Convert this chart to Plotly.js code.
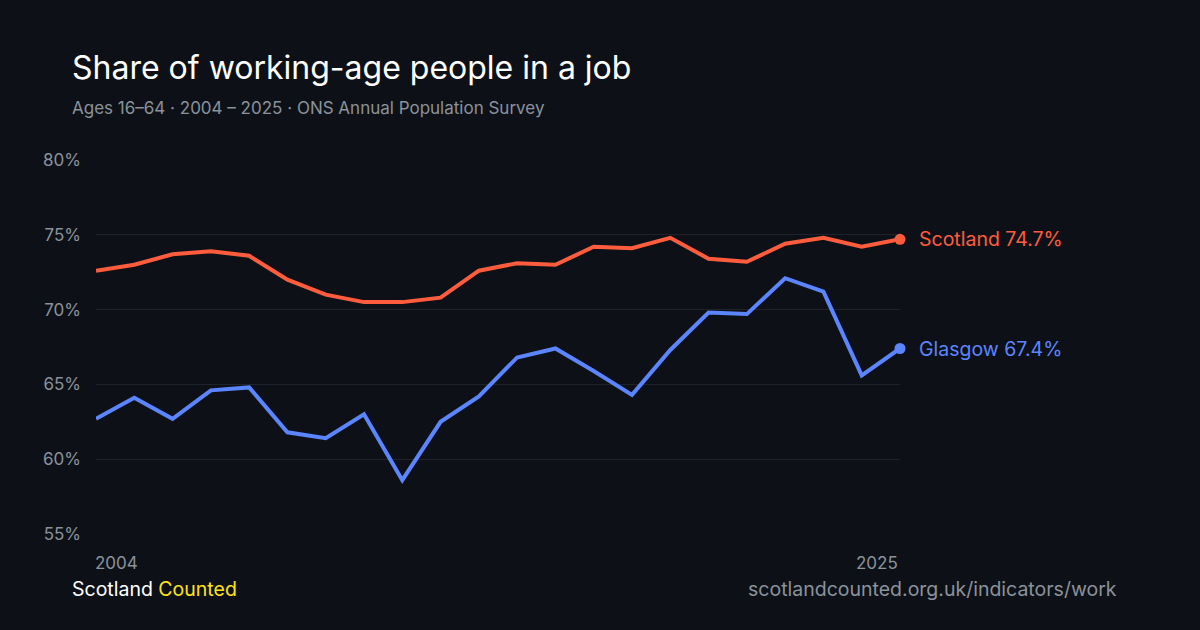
<!DOCTYPE html>
<html><head><meta charset="utf-8">
<script src="https://cdn.plot.ly/plotly-3.0.1.min.js"></script>
<style>html,body{margin:0;background:#0d1117;}#chart{width:1200px;height:630px;}</style>
</head><body><div id="chart"></div>
<script>
var years = [];
for (var y = 2004; y <= 2025; y++) years.push(y);
var scotland = [72.6,73.0,73.7,73.9,73.6,72.0,71.0,70.5,70.5,70.8,72.6,73.1,73.0,74.2,74.1,74.8,73.4,73.2,74.4,74.8,74.2,74.7];
var glasgow = [62.7,64.1,62.7,64.6,64.8,61.8,61.4,63.0,58.6,62.5,64.2,66.8,67.4,65.9,64.3,67.3,69.8,69.7,72.1,71.2,65.6,67.4];
var yTicks = [55, 60, 65, 70, 75, 80];
var yTickText = ["55%", "60%", "65%", "70%", "75%", "80%"];
var xLabels = ["2004", "2025"];
var cScot = "#ff5c3e", cGla = "#5b85ff";
var font = "Inter, 'Noto Sans', sans-serif";
var last = years.length - 1;
var pw = 804, ph = 374;

var data = [
  {x: years, y: scotland, mode: "lines", line: {color: cScot, width: 4}, cliponaxis: false},
  {x: years, y: glasgow, mode: "lines", line: {color: cGla, width: 4}, cliponaxis: false},
  {x: [years[last]], y: [scotland[last]], mode: "markers", marker: {color: cScot, size: 11}, cliponaxis: false},
  {x: [years[last]], y: [glasgow[last]], mode: "markers", marker: {color: cGla, size: 11}, cliponaxis: false}
];

var anns = [
  {xref: "paper", yref: "paper", x: -26/pw, y: 1 + 52/ph, xanchor: "left", yanchor: "middle", showarrow: false,
   text: "Ages 16–64 · 2004 – 2025 · ONS Annual Population Survey", font: {size: 17, color: "#8b929c"}},
  {x: years[last], y: scotland[last], xshift: 17, xanchor: "left", showarrow: false,
   text: "Scotland " + scotland[last] + "%", font: {size: 19.5, color: cScot}},
  {x: years[last], y: glasgow[last], xshift: 17, xanchor: "left", showarrow: false,
   text: "Glasgow " + glasgow[last] + "%", font: {size: 19.5, color: cGla}},
  {xref: "paper", yref: "paper", x: -26/pw, y: -55/ph, xanchor: "left", yanchor: "middle", showarrow: false,
   text: "Scotland <span style='color:#ffe11a'>Counted</span>", font: {size: 19.5, color: "#ffffff"}},
  {xref: "paper", yref: "paper", x: 1 + 219/pw, y: -55/ph, xanchor: "right", yanchor: "middle", showarrow: false,
   text: "scotlandcounted.org.uk/indicators/work", font: {size: 19.5, color: "#8b929c"}},
  {x: years[0], yref: "paper", y: -29/ph, xanchor: "left", xshift: -3, yanchor: "middle", showarrow: false,
   text: xLabels[0], font: {size: 17, color: "#8b929c"}},
  {x: years[last], yref: "paper", y: -29/ph, xanchor: "right", xshift: 0, yanchor: "middle", showarrow: false,
   text: xLabels[1], font: {size: 17, color: "#8b929c"}}
];

var layout = {
  width: 1200, height: 630,
  paper_bgcolor: "#0d1117", plot_bgcolor: "#0d1117",
  showlegend: false,
  margin: {l: 96, r: 300, t: 160, b: 96},
  font: {family: font, color: "#8b929c", size: 17},
  title: {text: "Share of working-age people in a job", x: 72/1200, xanchor: "left", y: 1 - 68/630, yanchor: "middle",
          font: {family: font, size: 32, color: "#ffffff"}},
  xaxis: {range: [2004, 2025], showticklabels: false, showgrid: false, zeroline: false, showline: false, ticks: ""},
  yaxis: {range: [55, 80], tickvals: yTicks, ticktext: yTickText, gridcolor: "#1d222b", gridwidth: 1,
          zeroline: false, showline: false, ticks: "", ticklabelstandoff: 14, tickfont: {size: 17, color: "#8b929c"}},
  annotations: anns
};
Plotly.newPlot("chart", data, layout, {displayModeBar: false, staticPlot: true});
</script></body></html>
